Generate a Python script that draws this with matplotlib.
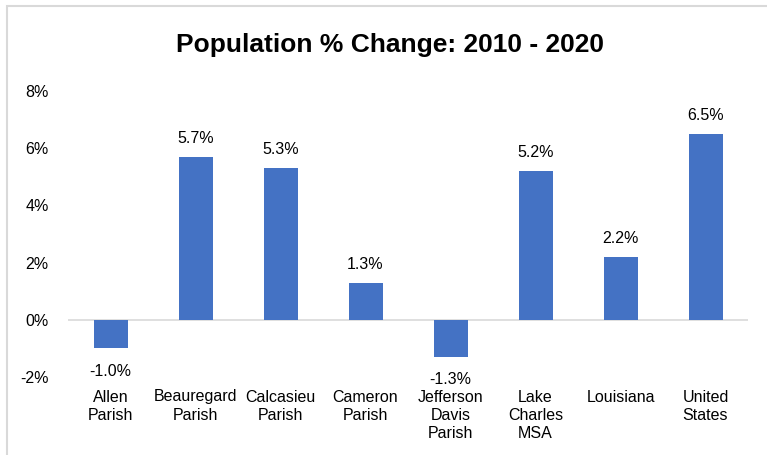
import matplotlib
matplotlib.use("Agg")
import matplotlib.pyplot as plt
from matplotlib.patches import Rectangle

categories = ["Allen\nParish", "Beauregard\nParish", "Calcasieu\nParish", "Cameron\nParish",
              "Jefferson\nDavis\nParish", "Lake\nCharles\nMSA", "Louisiana", "United\nStates"]
values = [-1.0, 5.7, 5.3, 1.3, -1.3, 5.2, 2.2, 6.5]
yticks = [-2, 0, 2, 4, 6, 8]
title = "Population % Change: 2010 - 2020"

plt.rcParams['font.family'] = ['Liberation Sans', 'DejaVu Sans']
W, H = 767, 455
fig = plt.figure(figsize=(W/100, H/100), dpi=100)
fig.patches.append(Rectangle((7/W, -0.1), 1.2, 1 - 6/H + 0.1, transform=fig.transFigure,
                             fill=False, edgecolor='#d9d9d9', linewidth=1.5))
ax = fig.add_axes([68/W, 1 - 377/H, 680/W, 286/H])
x = list(range(len(categories)))
ax.bar(x, values, width=0.4, color='#4472C4', zorder=2)
ax.set_xlim(-0.5, len(categories) - 0.5)
ax.set_ylim(-2, 8)
ax.set_yticks(yticks)
ax.set_yticklabels([f"{v}%" for v in yticks], fontsize=11.5)
ax.tick_params(axis='y', length=0, pad=14)
ax.set_xticks([])
for s in ax.spines.values():
    s.set_visible(False)
ax.axhline(0, color='#d9d9d9', linewidth=1.2, zorder=1)
for xi, v, c in zip(x, values, categories):
    if v >= 0:
        ax.annotate(f"{v:.1f}%", (xi, v), xytext=(0, 8), textcoords='offset points',
                    ha='center', va='bottom', fontsize=11.5)
    else:
        ax.annotate(f"{v:.1f}%", (xi, v), xytext=(0, -11), textcoords='offset points',
                    ha='center', va='top', fontsize=11.5)
    ax.annotate(c, (xi, -2), xytext=(0, -9), textcoords='offset points',
                ha='center', va='top', fontsize=11.5, linespacing=1.25)
fig.text(390 / W, 1 - 45/H, title, ha='center', va='center',
         fontsize=19, fontweight='bold')
fig.savefig("out.png", dpi=100)
